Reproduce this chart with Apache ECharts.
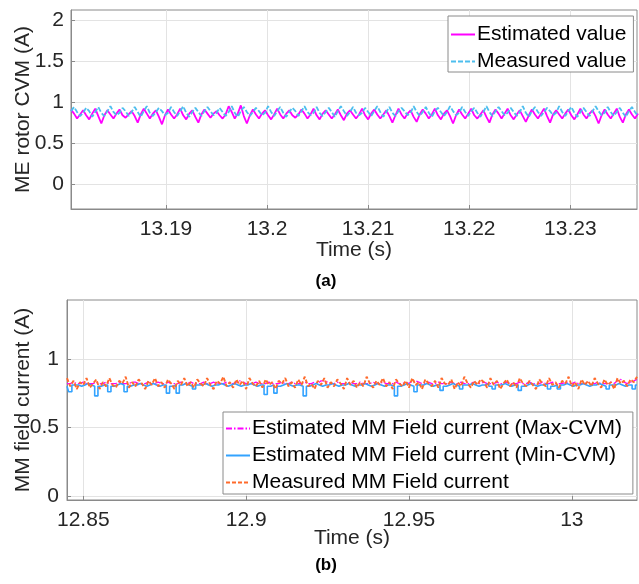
<!DOCTYPE html>
<html><head><meta charset="utf-8">
<script src="https://cdn.jsdelivr.net/npm/echarts@6/dist/echarts.min.js"></script>
<style>html,body{margin:0;padding:0;background:#fff}#c{width:639px;height:584px}</style>
</head><body><div id="c"></div>
<script>
// ---- Panel (a) data ----
var aT0 = 13.1806, aDt = 0.0003;
var aEstimated = [
0.91,0.86,0.80,0.85, 0.90,0.84,0.79,0.86, 0.92,0.83,0.74,0.84, 0.90,0.85,0.80,0.86,
0.91,0.84,0.81,0.85, 0.89,0.83,0.75,0.85, 0.92,0.86,0.80,0.86, 0.90,0.82,0.73,0.84,
0.91,0.85,0.80,0.85, 0.92,0.84,0.79,0.86, 0.90,0.82,0.75,0.85, 0.91,0.86,0.81,0.86,
0.89,0.84,0.80,0.85, 0.95,0.88,0.80,0.86, 0.96,0.83,0.74,0.84, 0.91,0.85,0.80,0.86,
0.90,0.84,0.79,0.85, 0.92,0.85,0.80,0.86, 0.90,0.84,0.81,0.85, 0.91,0.86,0.80,0.85,
0.92,0.84,0.79,0.86, 0.90,0.85,0.80,0.85, 0.91,0.84,0.78,0.86, 0.90,0.85,0.80,0.85,
0.92,0.84,0.79,0.86, 0.91,0.85,0.80,0.85, 0.90,0.83,0.75,0.84, 0.92,0.85,0.80,0.86,
0.90,0.82,0.76,0.85, 0.91,0.86,0.80,0.85, 0.92,0.84,0.79,0.86, 0.90,0.83,0.74,0.84,
0.91,0.85,0.80,0.86, 0.92,0.84,0.80,0.85, 0.90,0.82,0.75,0.85, 0.91,0.86,0.80,0.86,
0.92,0.84,0.79,0.85, 0.90,0.83,0.76,0.84, 0.91,0.85,0.80,0.86, 0.92,0.83,0.75,0.85,
0.90,0.85,0.80,0.86, 0.91,0.84,0.79,0.85, 0.92,0.85,0.80,0.86, 0.90,0.83,0.74,0.84,
0.91,0.85,0.80,0.86, 0.92,0.82,0.75,0.85, 0.91,0.85,0.80,0.86
];
var aMeasured = [
0.89,0.94,0.88,0.83, 0.87,0.93,0.89,0.82, 0.88,0.94,0.87,0.83, 0.89,0.95,0.88,0.84,
0.87,0.93,0.89,0.83, 0.88,0.94,0.88,0.82, 0.89,0.95,0.87,0.83, 0.88,0.93,0.89,0.84,
0.87,0.94,0.88,0.83, 0.89,0.95,0.87,0.82, 0.88,0.93,0.88,0.83, 0.89,0.94,0.89,0.84,
0.87,0.93,0.88,0.83, 0.88,0.95,0.87,0.82, 0.89,0.94,0.88,0.83, 0.88,0.93,0.89,0.84,
0.87,0.95,0.88,0.83, 0.89,0.94,0.87,0.82, 0.88,0.93,0.89,0.83, 0.89,0.95,0.88,0.84,
0.87,0.94,0.87,0.83, 0.88,0.93,0.88,0.82, 0.89,0.95,0.89,0.83, 0.88,0.94,0.87,0.84,
0.87,0.93,0.88,0.83, 0.89,0.95,0.88,0.82, 0.88,0.94,0.87,0.83, 0.89,0.93,0.89,0.84,
0.87,0.95,0.88,0.83, 0.88,0.94,0.87,0.82, 0.89,0.93,0.88,0.83, 0.88,0.95,0.89,0.84,
0.87,0.94,0.88,0.83, 0.89,0.93,0.87,0.82, 0.88,0.95,0.88,0.83, 0.89,0.94,0.89,0.84,
0.87,0.93,0.88,0.83, 0.88,0.95,0.87,0.82, 0.89,0.94,0.88,0.83, 0.88,0.93,0.89,0.84,
0.87,0.95,0.88,0.83, 0.89,0.94,0.87,0.82, 0.88,0.93,0.88,0.83, 0.89,0.95,0.89,0.84,
0.87,0.94,0.88,0.83, 0.88,0.93,0.87,0.82, 0.89,0.94,0.88,0.83
];
var aXTicks = [13.19, 13.2, 13.21, 13.22, 13.23];
var aYTicks = [0, 0.5, 1, 1.5, 2];

// ---- Panel (b) data ----
var bT0 = 12.845, bDt = 0.001;
var bMaxCVM = [
0.82,0.82,0.83,0.82,0.82,0.83,0.82,0.82,0.82,0.83,0.82,0.82,0.83,0.82,0.82,0.82,
0.83,0.82,0.82,0.82,0.83,0.83,0.82,0.82,0.82,0.83,0.82,0.82,0.83,0.82,0.82,0.83,
0.82,0.82,0.82,0.83,0.82,0.82,0.83,0.82,0.82,0.82,0.83,0.82,0.82,0.83,0.82,0.82,
0.82,0.83,0.82,0.82,0.83,0.84,0.83,0.82,0.82,0.82,0.83,0.82,0.82,0.82,0.83,0.82,
0.82,0.82,0.83,0.82,0.82,0.83,0.82,0.82,0.82,0.83,0.82,0.82,0.83,0.82,0.84,0.84,
0.83,0.82,0.82,0.83,0.82,0.82,0.82,0.83,0.82,0.82,0.83,0.82,0.82,0.82,0.83,0.82,
0.82,0.83,0.82,0.82,0.82,0.83,0.82,0.82,0.83,0.82,0.84,0.84,0.83,0.82,0.82,0.83,
0.82,0.82,0.83,0.82,0.82,0.82,0.83,0.82,0.82,0.83,0.82,0.82,0.82,0.83,0.82,0.82,
0.83,0.82,0.82,0.82,0.83,0.82,0.82,0.83,0.82,0.82,0.82,0.83,0.82,0.82,0.83,0.82,
0.82,0.82,0.83,0.82,0.82,0.83,0.82,0.82,0.82,0.83,0.82,0.82,0.83,0.82,0.82,0.82,
0.83,0.82,0.82,0.83,0.82,0.82,0.82,0.83,0.82,0.84,0.85,0.83,0.82,0.83,0.84,0.85
];
var bMinCVM = [
0.80,0.76,0.81,0.81,0.80,0.81,0.82,0.81,0.80,0.73,0.80,0.81,0.81,0.76,0.80,0.81,
0.82,0.81,0.76,0.80,0.81,0.81,0.82,0.81,0.80,0.81,0.82,0.81,0.80,0.81,0.81,0.75,
0.80,0.81,0.75,0.81,0.82,0.81,0.80,0.78,0.81,0.81,0.82,0.81,0.80,0.81,0.81,0.82,
0.81,0.80,0.81,0.82,0.81,0.80,0.81,0.81,0.82,0.81,0.80,0.81,0.81,0.74,0.80,0.81,
0.75,0.80,0.81,0.82,0.81,0.80,0.81,0.81,0.80,0.73,0.80,0.81,0.82,0.81,0.80,0.81,
0.81,0.82,0.81,0.80,0.81,0.81,0.82,0.81,0.80,0.81,0.81,0.82,0.81,0.80,0.81,0.82,
0.81,0.80,0.81,0.81,0.80,0.73,0.80,0.81,0.82,0.81,0.80,0.76,0.81,0.81,0.82,0.81,
0.80,0.81,0.81,0.77,0.80,0.81,0.82,0.81,0.80,0.78,0.81,0.81,0.82,0.81,0.80,0.81,
0.81,0.82,0.80,0.78,0.81,0.81,0.82,0.81,0.80,0.81,0.81,0.77,0.80,0.81,0.82,0.81,
0.80,0.81,0.81,0.82,0.78,0.80,0.81,0.78,0.81,0.82,0.81,0.80,0.81,0.81,0.82,0.81,
0.80,0.81,0.81,0.82,0.81,0.80,0.78,0.81,0.81,0.82,0.81,0.80,0.81,0.81,0.78,0.81
];
var bMeasured = [
0.86,0.80,0.84,0.78,0.83,0.81,0.86,0.79,0.82,0.85,0.78,0.83,0.80,0.86,0.81,0.79,
0.84,0.82,0.87,0.79,0.83,0.80,0.85,0.82,0.78,0.84,0.81,0.86,0.80,0.83,0.79,0.85,
0.82,0.78,0.84,0.81,0.86,0.80,0.83,0.79,0.85,0.82,0.80,0.86,0.81,0.78,0.84,0.82,
0.87,0.80,0.83,0.79,0.85,0.81,0.84,0.78,0.86,0.82,0.80,0.84,0.79,0.85,0.81,0.83,
0.78,0.84,0.82,0.86,0.80,0.83,0.79,0.85,0.81,0.87,0.80,0.82,0.78,0.84,0.81,0.86,
0.79,0.83,0.80,0.85,0.82,0.78,0.86,0.81,0.84,0.79,0.83,0.80,0.87,0.82,0.79,0.84,
0.81,0.86,0.80,0.83,0.78,0.85,0.82,0.80,0.84,0.79,0.86,0.81,0.83,0.78,0.85,0.82,
0.80,0.84,0.79,0.86,0.82,0.81,0.85,0.78,0.83,0.80,0.87,0.82,0.79,0.84,0.81,0.85,
0.83,0.79,0.86,0.81,0.84,0.78,0.82,0.85,0.80,0.83,0.79,0.86,0.82,0.80,0.84,0.81,
0.78,0.85,0.82,0.80,0.86,0.81,0.83,0.79,0.84,0.82,0.87,0.80,0.83,0.78,0.85,0.81,
0.84,0.80,0.86,0.82,0.79,0.85,0.81,0.83,0.78,0.86,0.82,0.84,0.80,0.85,0.83,0.87
];
var bXTicks = [12.85, 12.9, 12.95, 13];
var bYTicks = [0, 0.5, 1];

function pairs(t0, dt, vals){ return vals.map(function(v,i){ return [t0 + i*dt, v]; }); }
function fmt(v){ return String(+(+v).toFixed(4)); }

var FONT = '"Liberation Sans", Arial, Helvetica, sans-serif';
var TXT = '#262626', AXC = '#8a8a8a', GRIDC = '#e3e3e3';

function xAxis(gi, min, max, ticks, gap){
  return {type:'value', gridIndex:gi, min:min, max:max,
    name:'Time (s)', nameLocation:'middle', nameGap:gap, nameMoveOverlap:false,
    nameTextStyle:{fontSize:21, color:TXT, fontFamily:FONT},
    axisLine:{show:true, onZero:false, lineStyle:{color:AXC}},
    axisTick:{show:true, inside:true, length:4, customValues:ticks, lineStyle:{color:AXC}},
    axisLabel:{customValues:ticks, formatter:fmt, fontSize:21, color:TXT, fontFamily:FONT, margin:10},
    splitLine:{show:true, lineStyle:{color:GRIDC}}};
}
function yAxis(gi, min, max, ticks, name, gap, margin){
  return {type:'value', gridIndex:gi, min:min, max:max,
    name:name, nameLocation:'middle', nameGap:gap, nameMoveOverlap:false,
    nameTextStyle:{fontSize:21, color:TXT, fontFamily:FONT},
    axisLine:{show:true, onZero:false, lineStyle:{color:AXC}},
    axisTick:{show:true, inside:true, length:4, customValues:ticks, lineStyle:{color:AXC}},
    axisLabel:{customValues:ticks, formatter:fmt, fontSize:21, color:TXT, fontFamily:FONT, margin:margin},
    splitLine:{show:true, lineStyle:{color:GRIDC}}};
}
function line(name, gi, data, color, width, type){
  return {name:name, type:'line', xAxisIndex:gi, yAxisIndex:gi, data:data,
    symbol:'none', showSymbol:false, animation:false,
    lineStyle:{color:color, width:width, type:type}, itemStyle:{color:color}};
}
var legendCommon = {orient:'vertical', backgroundColor:'#fff', borderColor:'#8a8a8a', borderWidth:1,
  itemGap:6, itemWidth:24, itemHeight:14,
  itemStyle:{opacity:0, borderWidth:0},
  textStyle:{fontSize:21, color:'#000', fontFamily:FONT, padding:[0,0,0,-3]}};

var chart = echarts.init(document.getElementById('c'), null, {renderer:'canvas'});
chart.setOption({
  animation:false,
  backgroundColor:'#fff',
  grid:[
    {left:71, top:10, right:2, height:199, show:true, borderColor:AXC, borderWidth:1, containLabel:false, outerBoundsMode:'none'},
    {left:67, top:300, right:2, height:200, show:true, borderColor:AXC, borderWidth:1, containLabel:false, outerBoundsMode:'none'}
  ],
  xAxis:[ xAxis(0, 13.1806, 13.2366, aXTicks, 31), xAxis(1, 12.845, 13.02, bXTicks, 28) ],
  yAxis:[ yAxis(0, -0.3, 2.12, aYTicks, 'ME rotor CVM (A)', 37, 7), yAxis(1, -0.03, 1.43, bYTicks, 'MM field current (A)', 33, 8) ],
  legend:[
    Object.assign({}, legendCommon, {left:448, top:16, padding:[8,7,0,2], data:['Estimated value','Measured value']}),
    Object.assign({}, legendCommon, {left:223, top:412, padding:[6,11,1,2], data:['Estimated MM Field current (Max-CVM)','Estimated MM Field current (Min-CVM)','Measured MM Field current']})
  ],
  series:[
    line('Estimated value', 0, pairs(aT0, aDt, aEstimated), '#ff00ff', 1.8, 'solid'),
    line('Measured value', 0, pairs(aT0, aDt, aMeasured), '#4dbeee', 1.8, [5,2]),
    line('Estimated MM Field current (Max-CVM)', 1, pairs(bT0, bDt, bMaxCVM), '#ff00ff', 1.3, [6,2,1.5,2]),
    Object.assign(line('Estimated MM Field current (Min-CVM)', 1, pairs(bT0, bDt, bMinCVM), '#33a3ff', 1.6, 'solid'), {step:'middle'}),
    line('Measured MM Field current', 1, pairs(bT0, bDt, bMeasured), '#ff6a2b', 1.9, [4,2])
  ],
  graphic:[
    {type:'text', x:326, y:281, style:{text:'(a)', font:'bold 17px "Liberation Sans", Arial', fill:'#000', align:'center', verticalAlign:'middle'}},
    {type:'text', x:326, y:565, style:{text:'(b)', font:'bold 17px "Liberation Sans", Arial', fill:'#000', align:'center', verticalAlign:'middle'}}
  ]
});
</script>
</body></html>
